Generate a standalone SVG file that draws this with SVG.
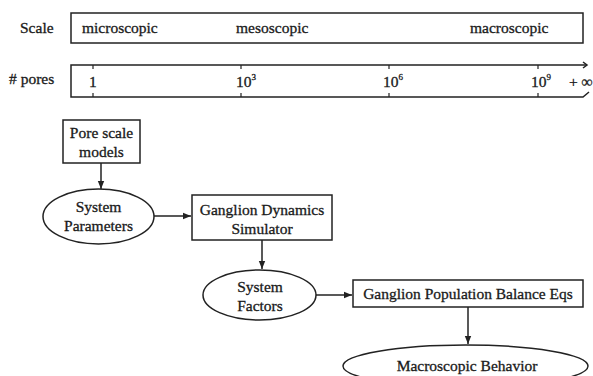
<svg xmlns="http://www.w3.org/2000/svg" width="593" height="376" viewBox="0 0 593 376">
<style>
text{font-family:"Liberation Serif","Times New Roman",serif;font-size:15.5px;fill:#1a1a1a;stroke:#1a1a1a;stroke-width:0.3}
.c{text-anchor:middle}
.sh{fill:#fff;stroke:#222;stroke-width:1.5}
.ln{fill:none;stroke:#222;stroke-width:1.5}
.tk{fill:none;stroke:#222;stroke-width:1.2;stroke-dasharray:4 3}
</style>
<defs>
<marker id="ah" viewBox="0 0 10 10" refX="10" refY="5" markerWidth="11" markerHeight="8" markerUnits="userSpaceOnUse" orient="auto">
<path d="M0,1 L10,5 L0,9 Z" fill="#222"/>
</marker>
</defs>
<rect width="593" height="376" fill="#fff"/>
<g id="scale">
<text x="20" y="33">Scale</text>
<rect class="sh" x="71" y="13" width="512" height="30"/>
<text x="82" y="33">microscopic</text>
<text x="236" y="33">mesoscopic</text>
<text x="470" y="33">macroscopic</text>
</g>
<g id="pores">
<text x="9" y="84">#&#160;pores</text>
<path class="ln" d="M587,65 L71,65 L71,97 L583,97 L589,92"/>
<path class="ln" d="M583,62 L587,65 L583,68"/>
<line class="tk" x1="93" y1="65" x2="93" y2="97"/>
<line class="tk" x1="241" y1="65" x2="241" y2="97"/>
<line class="tk" x1="389" y1="65" x2="389" y2="97"/>
<line class="tk" x1="538" y1="65" x2="538" y2="97"/>
<rect x="86" y="70" width="14" height="22" fill="#fff"/>
<rect x="236" y="70" width="26" height="22" fill="#fff"/>
<rect x="383" y="70" width="26" height="22" fill="#fff"/>
<rect x="532" y="70" width="26" height="22" fill="#fff"/>
<text x="89" y="87">1</text>
<text x="236" y="87">10<tspan font-size="9" dy="-7">3</tspan></text>
<text x="383" y="87">10<tspan font-size="9" dy="-7">6</tspan></text>
<text x="531" y="87">10<tspan font-size="9" dy="-7">9</tspan></text>
<text x="569" y="87">+ ∞</text>
</g>
<g id="connectors">
<line class="ln" x1="101" y1="163" x2="101" y2="189" marker-end="url(#ah)"/>
<line class="ln" x1="154" y1="216" x2="191" y2="216" marker-end="url(#ah)"/>
<line class="ln" x1="262" y1="240" x2="262" y2="269" marker-end="url(#ah)"/>
<line class="ln" x1="316" y1="295" x2="352" y2="295" marker-end="url(#ah)"/>
<line class="ln" x1="468" y1="307" x2="468" y2="344" marker-end="url(#ah)"/>
</g>
<g id="pore-scale-models">
<rect class="sh" x="63" y="120" width="77" height="43"/>
<text class="c" x="101.5" y="138">Pore scale</text>
<text class="c" x="101.5" y="157">models</text>
</g>
<g id="system-parameters">
<ellipse class="sh" cx="98.5" cy="216.5" rx="55.5" ry="27.5"/>
<text class="c" x="98.5" y="212">System</text>
<text class="c" x="98.5" y="231">Parameters</text>
</g>
<g id="ganglion-dynamics-simulator">
<rect class="sh" x="192" y="195" width="140" height="45"/>
<text class="c" x="262" y="215">Ganglion Dynamics</text>
<text class="c" x="262" y="234">Simulator</text>
</g>
<g id="system-factors">
<ellipse class="sh" cx="259.5" cy="295" rx="56.5" ry="25"/>
<text class="c" x="260" y="292">System</text>
<text class="c" x="260" y="311">Factors</text>
</g>
<g id="ganglion-population-balance">
<rect class="sh" x="353" y="280" width="230" height="27"/>
<text class="c" x="468" y="299">Ganglion Population Balance Eqs</text>
</g>
<g id="macroscopic-behavior">
<ellipse class="sh" cx="465.5" cy="366" rx="122.5" ry="21"/>
<text class="c" x="467" y="371">Macroscopic Behavior</text>
</g>
</svg>
